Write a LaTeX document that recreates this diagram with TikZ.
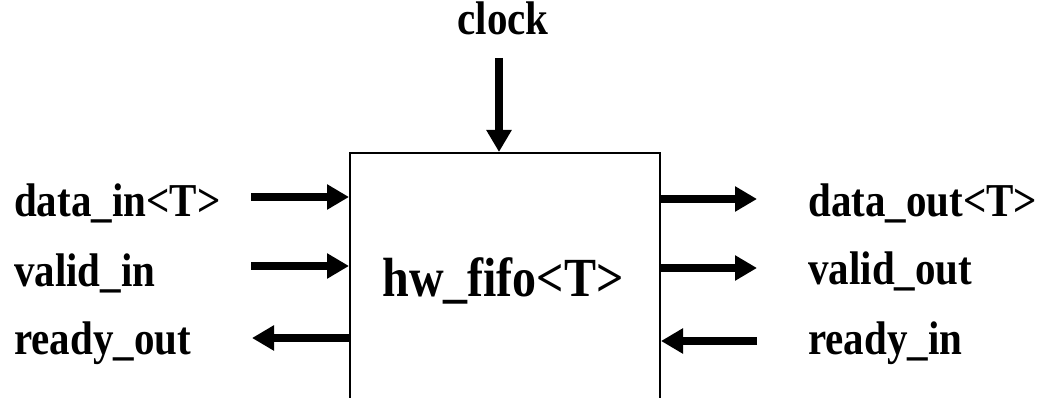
\documentclass[tikz,border=0pt]{standalone}
\usepackage{fontspec}
\setmainfont{Liberation Serif}
\usetikzlibrary{arrows.meta}
\tikzset{
  sig/.style={line width=8pt, -{Triangle[length=22pt,width=24pt]}},
  lbl/.style={inner sep=0pt, font=\bfseries\fontsize{41}{41}\selectfont},
  ttl/.style={inner sep=0pt, font=\bfseries\fontsize{48}{48}\selectfont},
}
\newcommand{\vstr}[1]{\scalebox{1}[1.15]{#1}}
\begin{document}
\begin{tikzpicture}[x=1pt,y=1pt]
\useasboundingbox (0,0) rectangle (1051,398);
\clip (0,0) rectangle (1051,398);
\fill[white] (0,0) rectangle (1051,398);
% box
\node[draw, line width=2pt, minimum width=310pt, minimum height=300pt, anchor=north west, inner sep=0pt] (fifo) at (349,246) {};
\node[ttl, anchor=base] (title) at (503,101) {\vstr{hw\_fifo<T>}};
% labels
\node[lbl, anchor=base] (lclock) at (503,363) {\vstr{clock}};
\node[lbl, anchor=base west] (ldin) at (14,181) {\vstr{data\_in<T>}};
\node[lbl, anchor=base west] (lvin) at (14,111) {\vstr{valid\_in}};
\node[lbl, anchor=base west] (lrout) at (14,43) {\vstr{ready\_out}};
\node[lbl, anchor=base west] (ldout) at (808,181) {\vstr{data\_out<T>}};
\node[lbl, anchor=base west] (lvout) at (808,113) {\vstr{valid\_out}};
\node[lbl, anchor=base west] (lrin) at (808,43) {\vstr{ready\_in}};
% free ends
\coordinate (cclk) at (499,340);
\coordinate (cdin) at (251,201);
\coordinate (cvin) at (251,132);
\coordinate (crout) at (252,60);
\coordinate (cdout) at (757,199);
\coordinate (cvout) at (757,130);
\coordinate (crin) at (757,57);
% connectors
\draw[sig] (cclk) -- (cclk |- fifo.north);
\draw[sig] (cdin) -- (cdin -| fifo.west);
\draw[sig] (cvin) -- (cvin -| fifo.west);
\draw[sig] (crout -| fifo.west) -- (crout);
\draw[sig] (cdout -| fifo.east) -- (cdout);
\draw[sig] (cvout -| fifo.east) -- (cvout);
\draw[sig] (crin) -- (crin -| fifo.east);
\end{tikzpicture}
\end{document}
